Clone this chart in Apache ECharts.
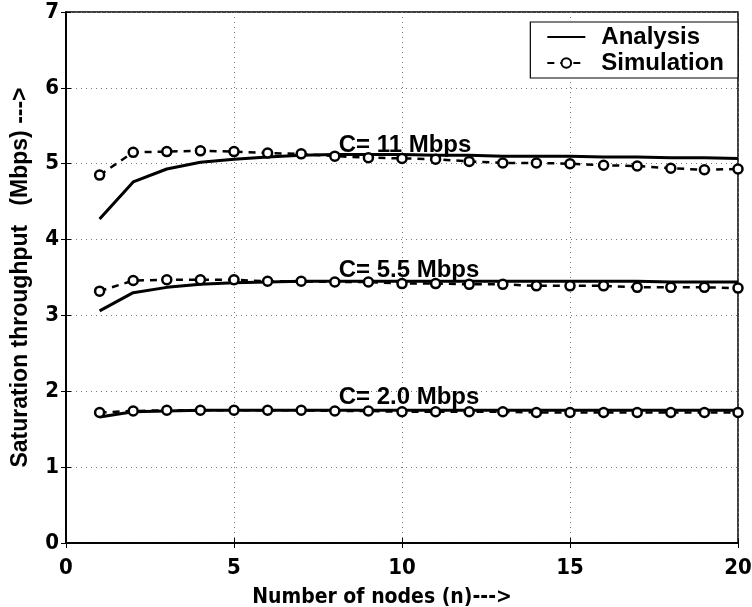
<!DOCTYPE html>
<html>
<head>
<meta charset="utf-8">
<script src="https://cdn.jsdelivr.net/npm/echarts@6/dist/echarts.min.js"></script>
<style>
    html, body { margin: 0; padding: 0; background: #fff; }
    #chart { width: 752px; height: 607px; }
</style>
</head>
<body>
<div id="chart"></div>
<script>
    // number of nodes
    const nodes = [1,2,3,4,5,6,7,8,9,10,11,12,13,14,15,16,17,18,19,20];

    // analysis curves (Mbps)
    const ana11  = [4.27,4.76,4.93,5.02,5.06,5.09,5.11,5.12,5.12,5.12,5.11,5.11,5.10,5.10,5.10,5.09,5.09,5.08,5.08,5.07];
    const ana55  = [3.06,3.30,3.37,3.41,3.43,3.44,3.45,3.45,3.45,3.45,3.45,3.45,3.45,3.45,3.45,3.45,3.45,3.44,3.44,3.44];
    const ana20  = [1.66,1.73,1.74,1.75,1.75,1.75,1.75,1.75,1.75,1.75,1.75,1.75,1.75,1.75,1.75,1.75,1.75,1.75,1.75,1.75];

    // simulation points (Mbps)
    const sim11  = [4.85,5.15,5.16,5.17,5.16,5.14,5.13,5.10,5.08,5.07,5.06,5.03,5.01,5.01,5.00,4.98,4.97,4.94,4.92,4.93];
    const sim55  = [3.32,3.46,3.47,3.47,3.47,3.45,3.45,3.44,3.44,3.42,3.42,3.41,3.41,3.39,3.39,3.39,3.37,3.37,3.37,3.36];
    const sim20  = [1.72,1.74,1.75,1.75,1.75,1.75,1.75,1.74,1.74,1.73,1.73,1.73,1.73,1.72,1.72,1.72,1.72,1.72,1.72,1.72];

    // curve labels: [x, y, text]
    const notes = [
        [8.1, 5.24, 'C= 11 Mbps'],
        [8.1, 3.60, 'C= 5.5 Mbps'],
        [8.1, 1.92, 'C= 2.0 Mbps'],
    ];

    const font = 'Liberation Sans, Arial, sans-serif';
    const narrow = 'DejaVu Sans Condensed, Liberation Sans, Arial, sans-serif';

    const pairs = (ys) => nodes.map((n, i) => [n, ys[i]]);

    const anaSeries = (ys) => ({
        name: 'Analysis',
        type: 'line',
        data: pairs(ys),
        showSymbol: false,
        symbol: 'none',
        lineStyle: { color: '#000', width: 3 },
        itemStyle: { color: '#000' },
        z: 3,
    });

    const simSeries = (ys) => ({
        name: 'Simulation',
        type: 'line',
        data: pairs(ys),
        symbol: 'circle',
        symbolSize: 9,
        lineStyle: { color: '#000', width: 2.5, type: [7, 6] },
        itemStyle: { color: '#fff', borderColor: '#000', borderWidth: 2.5 },
        z: 4,
    });

    let myChart = echarts.init(document.getElementById('chart'));
    myChart.setOption({
        animation: false,
        backgroundColor: '#fff',
        textStyle: { fontFamily: font },
        //网格位置
        grid: {
            left: 66, right: 14, top: 12, bottom: 64,
            outerBoundsMode: 'none',
            containLabel: false,
            show: true,
            borderColor: '#000',
            borderWidth: 1.5,
        },
        legend: {
            data: [
                { name: 'Analysis', itemStyle: { opacity: 0 } },
                { name: 'Simulation' },
            ],
            orient: 'vertical',
            right: 14,
            top: 22,
            padding: [3, 14, 3, 16],
            itemGap: 2,
            itemWidth: 38,
            itemHeight: 12,
            backgroundColor: '#fff',
            borderColor: '#000',
            borderWidth: 1.2,
            textStyle: { fontSize: 24, fontWeight: 'bold', color: '#000', fontFamily: font, padding: [0, 0, 0, 11] },
        },
        xAxis: [{
            type: 'value',
            min: 0, max: 20, interval: 5,
            name: 'Number of nodes (n)--->',
            nameLocation: 'middle',
            nameGap: 44,
            nameTextStyle: { fontSize: 21, fontWeight: 'bold', color: '#000', fontFamily: narrow, padding: [0, 40, 0, 0] },
            axisLine: { lineStyle: { color: '#000', width: 1.5 } },
            axisTick: { inside: true, length: 5, lineStyle: { color: '#000' } },
            axisLabel: { fontSize: 22, fontWeight: 'bold', color: '#000', fontFamily: narrow, margin: 14 },
            splitLine: { show: true, lineStyle: { color: '#777', type: [1, 4], width: 1 } },
        }, {
            type: 'value', position: 'top',
            min: 0, max: 20, interval: 5,
            axisLine: { lineStyle: { color: '#000', width: 1.5 } },
            axisTick: { inside: true, length: 5, lineStyle: { color: '#000' } },
            axisLabel: { show: false },
            splitLine: { show: false },
        }],
        yAxis: [{
            type: 'value',
            min: 0, max: 7, interval: 1,
            name: 'Saturation throughput   (Mbps) --->',
            nameLocation: 'middle',
            nameGap: 34,
            nameTextStyle: { fontSize: 23, fontWeight: 'bold', color: '#000', fontFamily: font },
            axisLine: { show: true, lineStyle: { color: '#000', width: 1.5 } },
            axisTick: { show: true, inside: true, length: 5, lineStyle: { color: '#000' } },
            axisLabel: { fontSize: 22, fontWeight: 'bold', color: '#000', fontFamily: narrow, margin: 7 },
            splitLine: { show: true, lineStyle: { color: '#777', type: [1, 4], width: 1 } },
        }, {
            type: 'value', position: 'right',
            min: 0, max: 7, interval: 1,
            axisLine: { show: true, lineStyle: { color: '#000', width: 1.5 } },
            axisTick: { show: true, inside: true, length: 5, lineStyle: { color: '#000' } },
            axisLabel: { show: false },
            splitLine: { show: false },
        }],
        series: [
            anaSeries(ana11), anaSeries(ana55), anaSeries(ana20),
            simSeries(sim11), simSeries(sim55), simSeries(sim20),
            {
                name: 'notes',
                type: 'scatter',
                symbolSize: 1,
                itemStyle: { color: '#000', opacity: 0 },
                data: notes.map(d => ({
                    value: [d[0], d[1]],
                    label: { formatter: d[2], color: '#000', opacity: 1 },
                })),
                label: {
                    show: true,
                    position: 'right',
                    distance: 0,
                    fontSize: 24,
                    fontWeight: 'bold',
                    color: '#000',
                    opacity: 1,
                    fontFamily: font,
                },
                emphasis: { disabled: true },
                silent: true,
                z: 5,
            },
        ],
    });
</script>
</body>
</html>
